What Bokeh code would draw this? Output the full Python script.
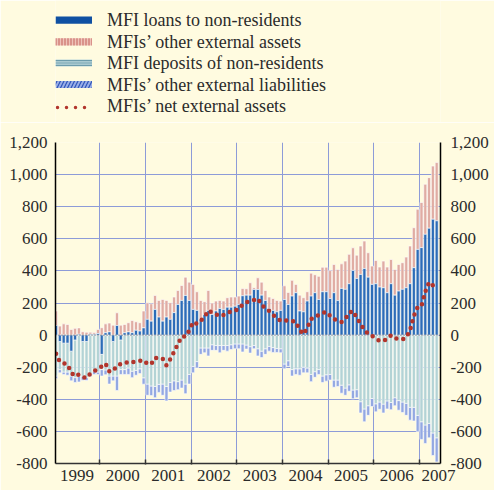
import numpy as np
from bokeh.plotting import figure
from bokeh.layouts import column
from bokeh.models import (ColumnDataSource, Range1d, LinearAxis, FixedTicker,
                          NumeralTickFormatter)
from bokeh.core.properties import value
from bokeh.embed import file_html
from bokeh.resources import INLINE

# ---- data (EUR billions, monthly Jan 1999 - May 2007) ----
years = ["1999", "2000", "2001", "2002", "2003", "2004", "2005", "2006", "2007"]

series_names = [
    "MFI loans to non-residents",
    "MFIs\u2019 other external assets",
    "MFI deposits of non-residents",
    "MFIs\u2019 other external liabilities",
    "MFIs\u2019 net external assets",
]

loans = [
    60, -40, -50, -50, -100, -30, 5, -40, -40, 5, 5, 10,
    -120, 15, 20, -40, 60, -30, 15, 20, 15, 30, 25, 45,
    98, 87, 160, 112, 87, 112, 98, 140, 191, 216, 247, 216,
    160, 154, 98, 129, 154, 129, 150, 166, 160, 174, 174, 180,
    191, 245, 249, 249, 284, 284, 249, 216, 166, 154, 145, 154,
    222, 191, 243, 264, 150, 145, 212, 243, 264, 222, 270, 270,
    228, 264, 215, 291, 285, 320, 403, 353, 378, 415, 361, 316,
    320, 299, 295, 264, 320, 249, 274, 285, 295, 320, 420, 534,
    545, 628, 666, 722, 712,
]
other_assets = [
    90, 56, 70, 66, 35, 42, 40, 21, 18, 13, 11, 25,
    46, 55, 55, 62, 79, 62, 51, 57, 76, 53, 52, 105,
    103, 108, 87, 104, 135, 104, 104, 97, 87, 93, 114, 114,
    156, 116, 118, 79, 124, 71, 62, 50, 52, 59, 63, 57,
    52, 45, 40, 77, 11, 73, 81, 62, 71, 74, 71, 58,
    85, 75, 98, 52, 99, 88, 58, 143, 112, 144, 153, 153,
    174, 176, 194, 153, 176, 183, 141, 145, 177, 171, 152, 114,
    145, 125, 166, 160, 151, 160, 166, 166, 191, 235, 249, 250,
    281, 312, 315, 331, 363,
]
deposits = [
    -255, -175, -180, -180, -155, -235, -257, -216, -223, -243, -225, -230,
    -95, -217, -255, -215, -255, -185, -215, -205, -225, -220, -210, -266,
    -305, -317, -320, -307, -305, -320, -295, -285, -290, -280, -305, -245,
    -195, -165, -80, -80, -80, -60, -65, -65, -65, -65, -60, -55,
    -55, -55, -62, -72, -65, -85, -100, -85, -70, -78, -83, -85,
    -180, -160, -215, -210, -210, -200, -205, -245, -228, -215, -255, -247,
    -245, -280, -280, -312, -330, -310, -342, -340, -415, -460, -440, -395,
    -428, -417, -430, -410, -420, -390, -408, -417, -425, -450, -450, -500,
    -540, -560, -550, -610, -640,
]
other_liabilities = [
    -15, -20, -15, -20, -30, -30, -35, -25, -20, -15, -20, -15,
    -40, -30, -50, -30, -90, -30, -30, -40, -40, -30, -30, -40,
    -70, -60, -70, -50, -70, -90, -60, -60, -50, -50, -60, -60,
    -40, -40, -40, -30, -50, -35, -30, -45, -30, -35, -30, -30,
    -30, -50, -25, -40, -20, -45, -40, -35, -30, -30, -25, -25,
    -30, -35, -40, -35, -40, -35, -30, -45, -35, -30, -40, -40,
    -35, -45, -40, -50, -45, -40, -55, -50, -70, -80, -60, -50,
    -50, -45, -55, -50, -45, -50, -60, -65, -75, -80, -85, -100,
    -110, -115, -90, -140, -150,
]
net_assets = [
    -116, -168, -175, -183, -233, -257, -245, -260, -268, -240, -225, -208,
    -195, -177, -226, -223, -190, -179, -179, -165, -168, -165, -160, -156,
    -179, -180, -141, -147, -147, -188, -150, -104, -56, -10, -8, 29,
    81, 71, 90, 112, 153, 140, 130, 118, 125, 136, 150, 155,
    161, 190, 205, 212, 218, 228, 190, 165, 150, 125, 110, 89,
    90, 91, 88, 82, 31, 6, 45, 100, 115, 125, 138, 145,
    120, 100, 88, 82, 100, 140, 150, 108, 70, 30, 10, -5,
    -20, -37, -35, -25, -2, -20, -23, -27, -15, 30, 120, 175,
    181, 270, 330, 310, 291,
]
y_ticks = [-800, -600, -400, -200, 0, 200, 400, 600, 800, 1000, 1200]

# ---- styling constants ----
BG = "#fffbe0"
GRID = "#8d9bd8"
FONT = "Liberation Serif"
TXT = "#2b2b2b"
C_LOANS = "#2c6cb8"
C_OA = "#e0aca3"
C_DEP = "#b3d3d5"
C_OL = "#93a8e2"
C_NET = "#b2352c"

W_TOTAL, H_TOTAL = 494, 490
H_LEG = 122
FRAME_L, FRAME_R = 55, 440   # frame edges (the column aligns both frames)

# ---- legend figure (pixel coordinates; frame aligned with the chart frame) ----
lg = figure(width=W_TOTAL, height=H_LEG,
            x_range=Range1d(FRAME_L, FRAME_R), y_range=Range1d(H_LEG, 0),
            x_axis_location=None, y_axis_location=None,
            output_backend="svg", toolbar_location=None,
            min_border=0, min_border_left=FRAME_L,
            min_border_right=W_TOTAL - FRAME_R,
            background_fill_color=BG, border_fill_color=BG,
            outline_line_color=None)
lg.grid.visible = False

row_y = [19.7, 41.3, 62.5, 84.0, 105.5]
sx0, sx1 = 55.0, 91.5
h = 3.6
# loans swatch
lg.quad(left=[sx0], right=[sx1], top=[row_y[0] - h], bottom=[row_y[0] + h],
        fill_color="#0f50a2", line_color=None)
# other assets swatch (pink with red vertical stripes)
lg.quad(left=[sx0], right=[sx1], top=[row_y[1] - h], bottom=[row_y[1] + h],
        fill_color="#eec3b9", line_color=None)
lg.line(x=[sx0, sx1], y=[row_y[1], row_y[1]], line_color="#c4605a",
        line_width=2 * h, line_dash="1 2")
# deposits swatch (teal with horizontal lines)
lg.quad(left=[sx0], right=[sx1], top=[row_y[2] - h], bottom=[row_y[2] + h],
        fill_color="#bcd8dc", line_color=None)
for dy in (-2.4, 0.0, 2.4):
    lg.line(x=[sx0, sx1], y=[row_y[2] + dy, row_y[2] + dy],
            line_color="#6c9cac", line_width=1.2)
# other liabilities swatch (blue hatched)
lg.quad(left=[sx0], right=[sx1], top=[row_y[3] - h], bottom=[row_y[3] + h],
        fill_color="#9aaee6", line_color=None,
        hatch_pattern="/", hatch_color="#2f55b8", hatch_scale=7, hatch_weight=1.2)
# net swatch (dotted)
lg.line(x=[sx0 + 2, sx1], y=[row_y[4] + 1.5, row_y[4] + 1.5], line_color=C_NET,
        line_width=3.5, line_dash="0 9", line_cap="round")

lg.text(x=[106.5] * 5, y=row_y, text=series_names,
        text_font=value(FONT), text_font_size="18px", text_color=TXT,
        text_baseline="middle", text_align="left")

# ---- stacking ----
n = len(loans)
t = np.arange(n, dtype=float)
L = np.array(loans, float)
OA = np.array(other_assets, float)
D = np.array(deposits, float)
OL = np.array(other_liabilities, float)
Lpos = np.clip(L, 0, None)
Lneg = np.clip(L, None, 0)

src = ColumnDataSource(dict(
    t=t,
    l_top=L, l_bot=np.zeros(n),
    oa_bot=Lpos, oa_top=Lpos + OA,
    d_top=Lneg, d_bot=Lneg + D,
    ol_top=Lneg + D, ol_bot=Lneg + D + OL,
    net=np.array(net_assets, float),
))

p = figure(width=W_TOTAL, height=H_TOTAL - H_LEG,
           x_range=Range1d(-0.15, 101.0), y_range=Range1d(-800, 1200),
           output_backend="svg", toolbar_location=None,
           min_border_left=FRAME_L, min_border_right=W_TOTAL - FRAME_R,
           min_border_top=142 - H_LEG, min_border_bottom=27,
           background_fill_color=BG, border_fill_color=BG,
           outline_line_color=None)

W = 0.8
p.vbar(x="t", top="ol_top", bottom="ol_bot", width=W, source=src,
       fill_color=C_OL, line_color="white", line_width=0.6)
p.vbar(x="t", top="d_top", bottom="d_bot", width=W, source=src,
       fill_color=C_DEP, line_color="white", line_width=0.6)
p.vbar(x="t", top="oa_top", bottom="oa_bot", width=W, source=src,
       fill_color=C_OA, line_color="white", line_width=0.6)
p.vbar(x="t", top="l_top", bottom="l_bot", width=W, source=src,
       fill_color=C_LOANS, line_color="white", line_width=0.6)

# zero reference line (dotted)
p.line(x=[-0.15, 101.0], y=[0, 0], line_color="#555555", line_width=1,
       line_dash="1 2")

p.line(x="t", y="net", source=src, line_color=C_NET, line_width=4.5,
       line_dash="0 7", line_cap="round")

# ---- grids ----
boundaries = [11.5 + 12 * k for k in range(8)]
p.xgrid.ticker = FixedTicker(ticks=boundaries)
p.ygrid.ticker = FixedTicker(ticks=y_ticks)
for g in (p.xgrid, p.ygrid):
    g.grid_line_color = GRID
    g.grid_line_width = 1

# ---- axes ----
label_pos = [5.5 + 12 * k for k in range(8)] + [100.5]
xa = p.xaxis[0]
xa.ticker = FixedTicker(ticks=label_pos, minor_ticks=boundaries)
xa.major_label_overrides = {pos: yr for pos, yr in zip(label_pos, years)}
xa.major_tick_in = 0
xa.major_tick_out = 0
xa.minor_tick_in = 4
xa.minor_tick_out = 1
xa.minor_tick_line_color = "#333333"
xa.minor_tick_line_width = 1.5
xa.axis_line_color = "#333333"
xa.axis_line_width = 1.5
xa.major_label_standoff = 5
xa.major_label_text_font = FONT
xa.major_label_text_font_size = "17px"
xa.major_label_text_color = TXT

ya = p.yaxis[0]
ya_r = LinearAxis()
p.add_layout(ya_r, "right")
for ax, so in ((ya, 8), (ya_r, 10)):
    ax.ticker = FixedTicker(ticks=y_ticks)
    ax.formatter = NumeralTickFormatter(format="0,0")
    ax.major_tick_in = 0
    ax.major_tick_out = 0
    ax.minor_tick_in = 0
    ax.minor_tick_out = 0
    ax.axis_line_color = "black"
    ax.axis_line_width = 1.5
    ax.major_label_standoff = so
    ax.major_label_text_font = FONT
    ax.major_label_text_font_size = "17px"
    ax.major_label_text_color = TXT

layout = column(lg, p, spacing=0)
open("out.html", "w").write(file_html(layout, INLINE))
